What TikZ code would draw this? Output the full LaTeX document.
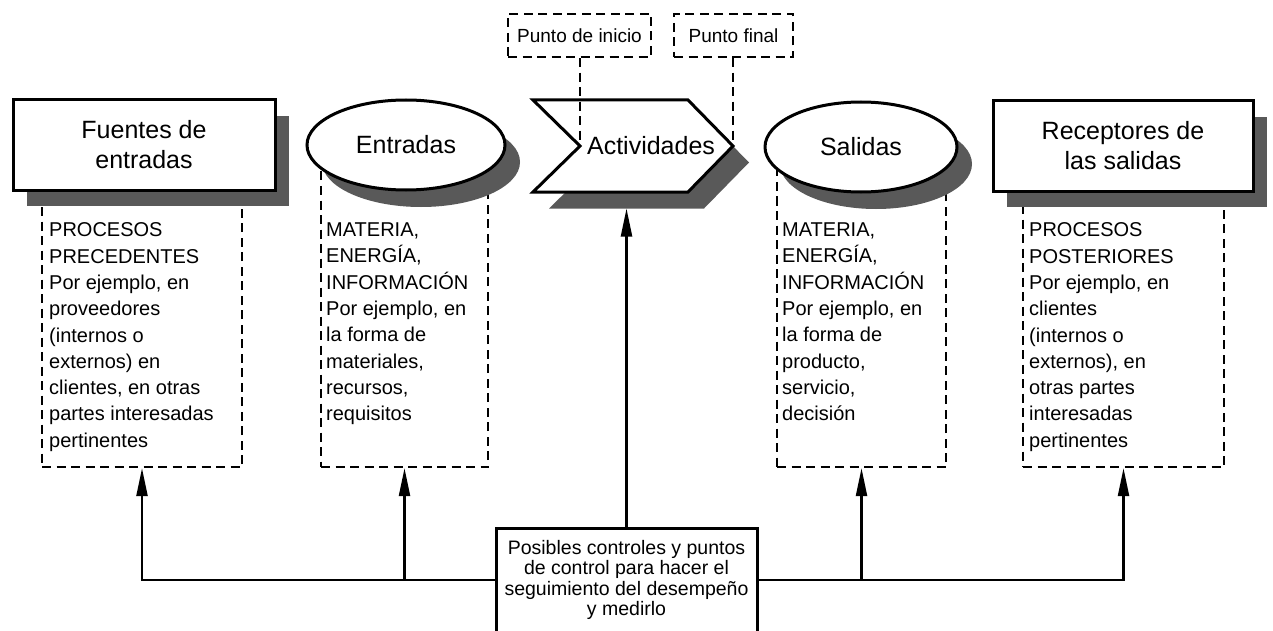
\documentclass[tikz,border=0pt]{standalone}
\usepackage{fontspec}
\setmainfont{Liberation Sans}
\usetikzlibrary{arrows.meta, positioning, shapes.geometric, shadows}
\definecolor{shadowgray}{gray}{0.35}
\newcommand\titlesize{\fontsize{25}{30}\selectfont}
\newcommand\listsize{\fontsize{20}{26.3}\selectfont}
\newcommand\tagsize{\fontsize{19}{22}\selectfont}
\newcommand\ctlsize{\fontsize{19.5}{20.5}\selectfont}
\tikzset{%
   % header box with an offset grey shadow
   headbox/.style={
      rectangle, draw, line width=3pt, fill=white,
      minimum height=90pt, inner sep=0pt, align=center, font=\titlesize,
      drop shadow={shadow xshift=14pt, shadow yshift=-16pt,
                   fill=shadowgray, opacity=1}
   },
   flowoval/.style={
      ellipse, draw, line width=3pt, fill=white,
      minimum height=90pt, inner sep=0pt, font=\titlesize,
      drop shadow={shadow xshift=15pt, shadow yshift=-17pt,
                   fill=shadowgray, opacity=1}
   },
   dashframe/.style={
      draw, line width=2.3pt, dash pattern=on 9pt off 5.5pt, inner sep=0pt
   },
   listtext/.style={
      inner sep=0pt, anchor=north west, align=left, font=\listsize
   },
   tagbox/.style={
      dashframe, minimum height=43pt, font=\tagsize
   },
   ctlbox/.style={
      draw, line width=3pt, fill=white, align=center, font=\ctlsize,
      minimum width=261pt, minimum height=104pt, inner sep=0pt
   },
   feed/.style={
      line width=2.3pt, -{Triangle[length=28pt, width=11pt]}
   },
}

\begin{document}
\begin{tikzpicture}[x=1pt, y=-1pt]
\useasboundingbox (0,0) rectangle (1273,631);
% dashed frames, drawn first so the shapes hide their tops
\node[dashframe, minimum width=200pt, minimum height=307pt] (fueF) at (142,313.5) {};
\node[dashframe, minimum width=167pt, minimum height=307pt] (entF) at (404.5,313.5) {};
\node[dashframe, minimum width=169pt, minimum height=307pt] (salF) at (861.5,313.5) {};
\node[dashframe, minimum width=201pt, minimum height=307pt] (recF) at (1123.5,313.5) {};
% process chain
\node[headbox, minimum width=262pt] (fue) at (144,145) {Fuentes de\\entradas};
\node[flowoval, minimum width=198pt] (ent) at (406,145) {Entradas};
\fill[shadowgray, shift={(16,16.5)}] (533,100) -- (688,100) -- (733,146) -- (688,192)
   -- (533,192) -- (580,146) -- cycle;
\coordinate (notch) at (580,146);
\coordinate (tip) at (733,146);
\draw[line width=3pt, fill=white] (533,100) -- (688,100) -- (tip) -- (688,192)
   -- (533,192) -- (notch) -- cycle;
\node[font=\titlesize] (act) at (651,146) {Actividades};
\node[flowoval, minimum width=192pt] (sal) at (861,147) {Salidas};
\node[headbox, minimum width=260pt] (rec) at (1123,146) {Receptores de\\las salidas};
% lists
\node[listtext] (fueT) at (49,222.7) {PROCESOS\\PRECEDENTES\\Por ejemplo, en\\proveedores\\(internos o\\externos) en\\clientes, en otras\\partes interesadas\\pertinentes};
\node[listtext] (entT) at (326,222.7) {MATERIA,\\ENERGÍA,\\INFORMACIÓN\\Por ejemplo, en\\la forma de\\materiales,\\recursos,\\requisitos};
\node[listtext] (salT) at (782,222.7) {MATERIA,\\ENERGÍA,\\INFORMACIÓN\\Por ejemplo, en\\la forma de\\producto,\\servicio,\\decisión};
\node[listtext] (recT) at (1029,222.7) {PROCESOS\\POSTERIORES\\Por ejemplo, en\\clientes\\(internos o\\externos), en\\otras partes\\interesadas\\pertinentes};
% start / end markers
\node[tagbox, minimum width=143pt] (ini) at (579.5,35.5) {Punto de inicio};
\node[tagbox, minimum width=119pt] (fin) at (733.5,35.5) {Punto final};
\draw[dashframe] (notch |- ini.south) -- (notch);
\draw[dashframe] (tip |- fin.south) -- (tip);
% control points
\node[ctlbox] (ctl) at (626.5,580) {Posibles controles y puntos\\de control para hacer el\\seguimiento del desempeño\\y medirlo};
\coordinate (actfoot) at (626.5,208.5);
\draw[feed] (ctl.north) -- (actfoot);
\draw[feed] (ctl.west) -| (fueF.south);
\draw[feed] (entF.south |- ctl.west) -- (entF.south);
\draw[feed] (ctl.east) -| (recF.south);
\draw[feed] (salF.south |- ctl.east) -- (salF.south);
\end{tikzpicture}
\end{document}
